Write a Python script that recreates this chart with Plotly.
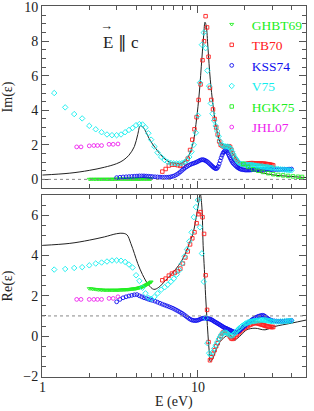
import plotly.graph_objects as go

# ---------------- data ----------------
# theory (black line)
th_E_im = [1.0, 1.5, 2.0, 2.5, 3.0, 3.3, 3.6, 3.9, 4.1, 4.25, 4.4, 4.6, 4.8, 5.1, 5.5, 6.0, 6.5, 7.0, 7.5, 8.0,
           8.5, 9.0, 9.4, 9.8, 10.2, 10.6, 10.9, 11.1, 11.3, 11.6, 12.0, 12.5, 13.0, 13.5, 14.0, 14.6, 15.2,
           15.8, 16.5, 17.4, 19.0, 20.0, 22.0, 25.7, 29.7, 34.2, 39.8, 45.0, 50.0]
th_im = [0.25, 0.36, 0.52, 0.7, 0.91, 1.1, 1.4, 1.9, 2.6, 3.1, 3.05, 2.8, 2.45, 2.05, 1.65, 1.25, 1.02, 0.95, 0.92, 0.98,
         1.2, 1.65, 2.3, 3.5, 5.0, 7.0, 8.4, 9.1, 8.9, 7.6, 5.8, 4.3, 3.2, 2.5, 2.1, 1.95, 1.9,
         1.86, 1.6, 1.25, 0.95, 0.85, 0.58, 0.39, 0.27, 0.21, 0.17, 0.13, 0.1]
th_E_re = [1.0, 1.5, 2.0, 2.5, 3.0, 3.3, 3.5, 3.7, 3.9, 4.1, 4.4, 4.8, 5.2, 5.6, 6.2, 6.8, 7.5, 8.2, 8.8, 9.3,
           9.8, 10.1, 10.35, 10.6, 10.8, 11.0, 11.2, 11.4, 11.6, 11.8, 12.0, 12.3, 12.7, 13.2, 13.9, 14.6,
           15.3, 16.0, 16.6, 17.3, 18.0, 19.0, 20.6, 23.3, 27.0, 31.0, 39.8, 50.0]
th_re = [4.5, 4.6, 4.76, 4.92, 5.08, 5.1, 5.02, 4.6, 4.1, 3.6, 3.05, 2.55, 2.32, 2.42, 2.77, 3.1, 3.5, 4.0, 4.6, 5.1,
         6.0, 6.6, 7.05, 6.4, 4.5, 3.3, 2.0, 1.0, 0.06, -0.7, -1.25, -1.2, -0.95, -0.6, -0.27, -0.1,
         0.02, 0.06, -0.08, -0.2, -0.1, 0.06, 0.31, 0.39, 0.31, 0.47, 0.64, 0.8]

# GHBT69
ghbt_E = [2.00, 2.05, 2.10, 2.15, 2.20, 2.25, 2.30, 2.35, 2.40, 2.45, 2.50, 2.55, 2.60, 2.65, 2.70, 2.75, 2.80,
          2.85, 2.90, 2.95, 3.00, 3.05, 3.10, 3.15, 3.20, 3.25, 3.30, 3.35, 3.40, 3.45, 3.50, 3.55, 3.60, 3.65,
          3.70, 3.75, 3.80, 3.85, 3.90, 3.95, 4.00, 4.05, 4.10, 4.15, 4.20, 4.25, 4.30, 4.35, 4.40, 4.45, 4.50,
          4.55, 4.60, 4.65, 4.70, 4.75, 4.80, 4.85, 4.90, 4.95, 5.00]
ghbt_im = [0.01, 0.01, 0.01, 0.01, 0.01, 0.01, 0.01, 0.01, 0.01, 0.01, 0.01, 0.01, 0.01, 0.01, 0.01, 0.01, 0.01,
           0.01, 0.01, 0.01, 0.02, 0.02, 0.02, 0.02, 0.02, 0.02, 0.02, 0.02, 0.02, 0.02, 0.02, 0.02, 0.02, 0.02,
           0.02, 0.02, 0.02, 0.02, 0.02, 0.02, 0.02, 0.02, 0.02, 0.02, 0.02, 0.02, 0.03, 0.03, 0.03, 0.03, 0.03,
           0.03, 0.03, 0.03, 0.03, 0.03, 0.03, 0.03, 0.03, 0.03, 0.03]
ghbt_re = [2.36, 2.35, 2.34, 2.33, 2.32, 2.31, 2.30, 2.30, 2.29, 2.29, 2.28, 2.28, 2.28, 2.28, 2.28, 2.28, 2.28,
           2.28, 2.28, 2.28, 2.28, 2.28, 2.28, 2.29, 2.29, 2.29, 2.30, 2.30, 2.30, 2.31, 2.31, 2.31, 2.32, 2.32,
           2.33, 2.33, 2.34, 2.34, 2.35, 2.35, 2.36, 2.37, 2.38, 2.39, 2.40, 2.41, 2.42, 2.43, 2.45, 2.46, 2.48,
           2.50, 2.52, 2.54, 2.56, 2.58, 2.60, 2.62, 2.64, 2.67, 2.69]

# TB70
tb_E = [5.9, 6.2, 6.5, 6.8, 7.1, 7.4, 7.7, 8.0, 8.3, 8.6, 8.9, 9.2, 9.5, 9.8, 10.1, 10.4, 10.7, 10.95, 11.2,
        11.45, 11.7, 11.95, 12.2, 12.5, 12.8, 13.1, 13.4, 13.7, 14.0, 14.3, 14.6, 14.9, 15.2, 15.5, 15.8, 16.1,
        16.4, 16.7, 17.0, 17.4, 17.8, 18.2, 18.6, 19.0, 19.5, 20.0, 20.5, 21.0, 21.5, 22.0, 22.5, 23.0, 23.5,
        24.0, 24.5, 25.0, 25.5, 26.0, 26.5, 27.0, 27.5, 28.0, 28.5, 29.0, 29.5, 30.0, 30.5]
tb_im = [0.45, 0.6, 0.8, 0.85, 0.85, 0.82, 0.78, 0.8, 0.95, 1.2, 1.7, 2.3, 2.9, 3.6, 4.6, 5.5, 6.9, 8.0, 9.45,
         8.8, 7.1, 5.3, 4.6, 4.05, 3.5, 3.0, 2.6, 2.2, 2.0, 1.95, 1.9, 1.88, 1.9, 1.92, 1.92, 1.88,
         1.72, 1.5, 1.3, 1.15, 1.05, 0.95, 0.9, 0.86, 0.86, 0.88, 0.9, 0.92, 0.93, 0.94, 0.94, 0.93, 0.93,
         0.92, 0.92, 0.92, 0.92, 0.91, 0.91, 0.9, 0.89, 0.88, 0.87, 0.86, 0.84, 0.83, 0.81]
tb_re = [2.77, 2.85, 3.0, 3.1, 3.15, 3.22, 3.35, 3.6, 3.9, 4.2, 4.55, 4.85, 5.15, 5.6, 6.05, 6.15, 5.9, 5.07, 3.02,
         1.3, -0.3, -1.2, -1.05, -0.88, -0.7, -0.5, -0.35, -0.15, 0.0, 0.12, 0.2, 0.22, 0.2, 0.14, 0.05, -0.05,
         -0.12, -0.14, -0.1, -0.03, 0.06, 0.14, 0.22, 0.28, 0.35, 0.4, 0.45, 0.5, 0.55, 0.58, 0.62, 0.64, 0.65,
         0.64, 0.62, 0.6, 0.58, 0.56, 0.54, 0.52, 0.5, 0.48, 0.47, 0.46, 0.45, 0.45, 0.45]

# KSS74
kss_E = [3.0, 3.15, 3.3, 3.45, 3.6, 3.75, 3.9, 4.05, 4.2, 4.35, 4.5, 4.65, 4.8, 4.95, 5.1, 5.3, 5.5, 5.7, 5.9,
         6.1, 6.3, 6.5, 6.7, 6.9, 7.1, 7.3, 7.5, 7.7, 7.9, 8.1, 8.3, 8.5, 8.7, 8.9, 9.1, 9.3, 9.5, 9.7, 9.9,
         10.1, 10.3, 10.5, 10.7, 10.9, 11.1, 11.3, 11.5, 11.7, 11.9, 12.1, 12.3, 12.5, 12.7, 12.9, 13.1, 13.3,
         13.5, 13.7, 13.9, 14.1, 14.3, 14.5, 14.7, 14.9, 15.1, 15.3, 15.5, 15.7, 15.9, 16.1, 16.3, 16.5, 16.7,
         16.9, 17.2, 17.5, 17.8, 18.1, 18.4, 18.7, 19.0, 19.4, 19.8, 20.2, 20.6, 21.0, 21.4, 21.8, 22.2, 22.6,
         23.0, 23.5, 24.0, 24.5, 25.0, 25.5, 26.0, 26.5, 27.0, 27.5, 28.0, 28.5, 29.0, 29.5, 30.0, 31.0, 32.0,
         33.0, 34.0, 35.0, 36.0, 37.0, 38.0, 39.0, 40.0]
kss_im = [0.1, 0.12, 0.14, 0.15, 0.16, 0.17, 0.18, 0.19, 0.2, 0.2, 0.2, 0.19, 0.18, 0.17, 0.16, 0.15, 0.14, 0.13,
          0.12, 0.12, 0.12, 0.13, 0.15, 0.18, 0.22, 0.28, 0.35, 0.43, 0.52, 0.6, 0.68, 0.74, 0.8, 0.85, 0.89,
          0.92, 0.95, 0.98, 1.02, 1.06, 1.1, 1.13, 1.14, 1.13, 1.1, 1.06, 1.02, 0.96, 0.9, 0.84, 0.78, 0.72,
          0.67, 0.63, 0.62, 0.65, 0.75, 0.9, 1.08, 1.25, 1.4, 1.52, 1.6, 1.65, 1.66, 1.62, 1.55, 1.45, 1.35,
          1.25, 1.15, 1.06, 0.98, 0.92, 0.85, 0.78, 0.72, 0.67, 0.63, 0.6, 0.58, 0.56, 0.55, 0.54, 0.54, 0.54,
          0.54, 0.55, 0.55, 0.56, 0.56, 0.57, 0.57, 0.57, 0.57, 0.57, 0.57, 0.57, 0.57, 0.57, 0.57, 0.57, 0.57,
          0.57, 0.57, 0.57, 0.57, 0.57, 0.57, 0.58, 0.58, 0.58, 0.59, 0.59, 0.6, 0.61, 0.62]
kss_re = [1.7, 1.82, 1.9, 1.95, 1.99, 2.02, 2.05, 2.06, 2.0, 1.95, 1.9, 1.87, 1.83, 1.8, 1.77, 1.73, 1.68, 1.63,
          1.58, 1.54, 1.5, 1.46, 1.42, 1.38, 1.33, 1.28, 1.23, 1.18, 1.13, 1.07, 1.01, 0.95, 0.89, 0.84, 0.8,
          0.78, 0.77, 0.77, 0.78, 0.8, 0.83, 0.86, 0.88, 0.89, 0.89, 0.88, 0.87, 0.86, 0.85, 0.83, 0.8, 0.77,
          0.73, 0.7, 0.67, 0.64, 0.61, 0.58, 0.55, 0.52, 0.49, 0.46, 0.43, 0.41, 0.39, 0.37, 0.35, 0.33, 0.31,
          0.29, 0.27, 0.25, 0.23, 0.21, 0.2, 0.19, 0.2, 0.22, 0.26, 0.3, 0.35, 0.41, 0.47, 0.53, 0.59, 0.65,
          0.7, 0.75, 0.8, 0.84, 0.88, 0.92, 0.95, 0.98, 1.0, 1.02, 1.03, 1.02, 0.98, 0.93, 0.88, 0.84, 0.81,
          0.79, 0.77, 0.75, 0.74, 0.73, 0.73, 0.73, 0.74, 0.75, 0.76, 0.77, 0.78]

# V75
v_E = [1.19, 1.4, 1.6, 1.8, 2.0, 2.2, 2.4, 2.6, 2.8, 3.0, 3.2, 3.4, 3.6, 3.8, 4.0, 4.2, 4.4, 4.6, 4.8, 5.0,
       5.25, 5.5, 5.8, 6.1, 6.4, 6.7, 7.0, 7.3, 7.6, 7.9, 8.2, 8.5, 8.8, 9.1, 9.4, 9.7, 10.0, 10.3, 10.6, 10.9,
       11.2, 11.5, 11.8, 12.1, 12.4, 12.7, 13.0, 13.3, 13.6, 13.9, 14.2, 14.5, 14.8, 15.1, 15.4, 15.7, 16.0,
       16.3, 16.6, 16.9, 17.2, 17.5, 17.8, 18.1, 18.4, 18.8, 19.2, 19.6, 20.0, 20.4, 20.8, 21.2, 21.6, 22.0,
       22.4, 22.8, 23.2, 23.6, 24.0, 24.5, 25.0, 25.5, 26.0, 26.5, 27.0, 27.5, 28.0, 28.5, 29.0, 29.5, 30.0,
       31.0, 32.0, 33.0, 34.0, 35.0, 36.0, 37.0, 38.0, 39.0, 40.0]
v_im = [5.0, 4.17, 3.78, 3.53, 3.1, 2.9, 2.73, 2.6, 2.56, 2.56, 2.6, 2.73, 2.86, 2.98, 3.14, 3.2, 3.18, 3.0, 2.67,
        2.3, 1.9, 1.55, 1.3, 1.12, 1.0, 0.95, 0.93, 0.92, 0.92, 0.94, 1.0, 1.1, 1.3, 1.6, 2.0, 2.7, 3.7, 5.6,
        7.8, 8.5, 7.6, 6.3, 5.4, 4.4, 3.8, 3.4, 3.1, 2.8, 2.5, 2.2, 2.0, 1.95, 1.9, 1.9, 1.9, 1.88, 1.85, 1.75,
        1.6, 1.45, 1.3, 1.2, 1.1, 1.0, 0.95, 0.9, 0.88, 0.87, 0.86, 0.86, 0.85, 0.85, 0.84, 0.83, 0.82, 0.81,
        0.8, 0.79, 0.78, 0.77, 0.76, 0.75, 0.74, 0.73, 0.72, 0.71, 0.7, 0.69, 0.68, 0.67, 0.66, 0.64, 0.62,
        0.6, 0.58, 0.57, 0.56, 0.55, 0.54, 0.53, 0.52]
v_re = [3.3, 3.33, 3.38, 3.42, 3.51, 3.6, 3.65, 3.7, 3.75, 3.76, 3.74, 3.68, 3.55, 3.4, 3.02, 2.74, 2.4, 2.12,
        1.9, 1.85, 1.95, 2.12, 2.3, 2.42, 2.55, 2.7, 2.85, 3.05, 3.27, 3.6, 3.95, 4.3, 4.7, 5.15, 5.9, 6.4,
        6.75, 5.4, 4.1, 2.7, 0.9, -0.35, -0.85, -0.95, -0.8, -0.62, -0.46, -0.3, -0.15, -0.02, 0.08, 0.15,
        0.18, 0.18, 0.15, 0.1, 0.05, 0.02, 0.03, 0.08, 0.14, 0.2, 0.26, 0.32, 0.38, 0.44, 0.5, 0.55, 0.6,
        0.63, 0.66, 0.68, 0.7, 0.72, 0.73, 0.74, 0.75, 0.76, 0.77, 0.78, 0.79, 0.8, 0.8, 0.8, 0.79, 0.78,
        0.77, 0.76, 0.75, 0.74, 0.73, 0.72, 0.72, 0.72, 0.73, 0.73, 0.74, 0.74, 0.75, 0.76, 0.76]

# HGK75
hgk_E = [19.6, 21.0, 22.7, 24.4, 26.2, 28.3, 30.5, 32.8, 35.3, 38.0, 40.9, 44.0, 46.7]
hgk_im = [0.9, 0.72, 0.58, 0.5, 0.43, 0.36, 0.3, 0.26, 0.23, 0.2, 0.17, 0.15, 0.14]

# JHL07
jhl_E = [1.66, 1.77, 2.0, 2.14, 2.26, 2.4, 2.68, 2.85, 3.06]
jhl_im = [1.88, 1.88, 1.94, 1.96, 1.96, 1.96, 2.03, 2.03, 2.05]
jhl_re = [1.82, 1.82, 1.82, 1.82, 1.82, 1.82, 1.87, 1.87, 1.95]

# ---------------- styling ----------------
GREEN = "#22ee22"
RED = "#ff2020"
BLUE = "#1010ee"
CYAN = "#10eeee"
MAG = "#ee22ee"
FONT = "Liberation Serif"

W, H = 314, 411
ML, MR, MT, MB = 42, 6, 6, 34
PH = H - MT - MB
PW = W - ML - MR

def py(p):
    return (H - MB - p) / PH

def px(p):
    return (p - ML) / PW

def lab(txt, col):
    return "<span style='color:%s'>%s</span>" % (col, txt)

fig = go.Figure()

def mk(sym, col, size):
    return dict(symbol=sym, size=size, color=col, line=dict(color=col, width=0.9))

# theory lines
fig.add_trace(go.Scatter(x=th_E_im, y=th_im, mode="lines", line=dict(color="#222", width=1, shape="spline"),
                         showlegend=False, xaxis="x", yaxis="y"))
fig.add_trace(go.Scatter(x=th_E_re, y=th_re, mode="lines", line=dict(color="#222", width=1, shape="spline"),
                         showlegend=False, xaxis="x2", yaxis="y2"))

series = [
    ("GHBT69", GREEN, "triangle-down-open", ghbt_E, ghbt_im, ghbt_re, 3.5),
    ("TB70", RED, "square-open", tb_E, tb_im, tb_re, 3.5),
    ("KSS74", BLUE, "circle-open", kss_E, kss_im, kss_re, 3.8),
    ("V75", CYAN, "diamond-open", v_E, v_im, v_re, 4.2),
    ("HGK75", GREEN, "square-open", hgk_E, hgk_im, None, 3.5),
    ("JHL07", MAG, "circle-open", jhl_E, jhl_im, jhl_re, 3.8),
]
for name, col, sym, E, im, re, sz in series:
    fig.add_trace(go.Scatter(x=E, y=im, mode="markers", marker=mk(sym, col, sz), name=lab(name, col),
                             xaxis="x", yaxis="y"))
    if re is not None:
        fig.add_trace(go.Scatter(x=E, y=re, mode="markers", marker=mk(sym, col, sz), name=name,
                                 showlegend=False, xaxis="x2", yaxis="y2"))

axcol = "#555"
xcommon = dict(type="log", range=[-0.003, 1.695], showline=True, linecolor=axcol, linewidth=1, mirror="allticks",
               ticks="inside", ticklen=7, tickcolor=axcol, tickwidth=1, showgrid=False, zeroline=False,
               tickvals=[1, 10], ticktext=["1", "10"], automargin=False, ticklabeloverflow="allow",
               minor=dict(tickvals=[2, 3, 4, 5, 6, 7, 8, 9, 20, 30, 40], ticks="inside", ticklen=4,
                          tickcolor=axcol, showgrid=False),
               tickfont=dict(family=FONT, size=14, color="#222"))
ycommon = dict(showline=True, linecolor=axcol, linewidth=1, mirror="allticks", ticks="inside", ticklen=7,
               tickcolor=axcol, tickwidth=1, showgrid=False, zeroline=False, dtick=2, automargin=False,
               ticklabeloverflow="allow",
               minor=dict(dtick=0.5, ticks="inside", ticklen=4, tickcolor=axcol, showgrid=False),
               tickfont=dict(family=FONT, size=14, color="#222"))

fig.update_layout(
    width=W, height=H,
    margin=dict(l=ML, r=MR, t=MT, b=MB),
    paper_bgcolor="white", plot_bgcolor="white",
    font=dict(family=FONT, size=14, color="#222"),
    xaxis=dict(xcommon, anchor="y", showticklabels=False, matches="x2"),
    xaxis2=dict(xcommon, anchor="y2", ticklabelstandoff=-3),
    yaxis=dict(ycommon, domain=[py(188), 1.0], range=[-0.5, 10.04], anchor="x",
               title=dict(text="Im(ε)", font=dict(family=FONT, size=14), standoff=8)),
    yaxis2=dict(ycommon, domain=[0.0, py(195)], range=[-2.03, 7], anchor="x2",
                title=dict(text="Re(ε)", font=dict(family=FONT, size=14), standoff=8)),
    legend=dict(x=px(213), y=py(9), xanchor="left", yanchor="top",
                bgcolor="rgba(0,0,0,0)", borderwidth=0, font=dict(family=FONT, size=13.5),
                tracegroupgap=0, itemwidth=30),
    showlegend=True,
    shapes=[
        dict(type="line", xref="x domain", yref="y", x0=0, x1=1, y0=0, y1=0,
             line=dict(color="#888", width=1, dash="dot")),
        dict(type="line", xref="x2 domain", yref="y2", x0=0, x1=1, y0=1, y1=1,
             line=dict(color="#888", width=1, dash="dot")),
    ],
    annotations=[
        dict(text="E ∥ c", xref="paper", yref="paper", x=px(101), y=py(42),
             xanchor="left", yanchor="middle", showarrow=False, font=dict(family=FONT, size=17, color="#222")),
        dict(text="→", xref="paper", yref="paper", x=px(106.5), y=py(25.5),
             xanchor="center", yanchor="middle", showarrow=False, font=dict(family=FONT, size=13, color="#222")),
        dict(text="E (eV)", xref="paper", yref="paper", x=0.5, y=py(402),
             xanchor="center", yanchor="middle", showarrow=False, font=dict(family=FONT, size=14, color="#222")),
    ],
)

fig.write_html("out.html", config={"displayModeBar": False},
               post_script="document.body.style.margin='0';document.body.style.overflow='hidden';")
